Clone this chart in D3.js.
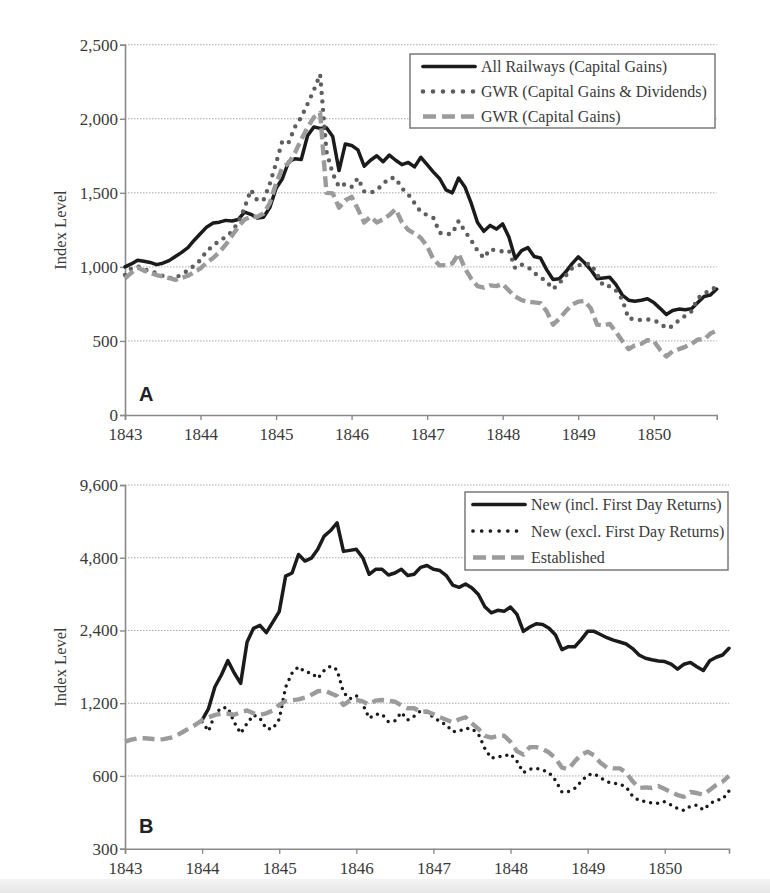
<!DOCTYPE html>
<html>
<head>
<meta charset="utf-8">
<script src="https://cdnjs.cloudflare.com/ajax/libs/d3/7.8.5/d3.min.js"></script>
<style>
  html, body { margin: 0; padding: 0; background: #fff; }
  svg { display: block; }
</style>
</head>
<body>
<div id="chart"></div>
<script>
// ---------- DATA (monthly, starting January 1843) ----------
const startYear = 1843;
const yearTicks = [1843, 1844, 1845, 1846, 1847, 1848, 1849, 1850];
const topTicks = [0, 500, 1000, 1500, 2000, 2500];
const bottomTicks = [300, 600, 1200, 2400, 4800, 9600];

const topLabels = ["All Railways (Capital Gains)", "GWR (Capital Gains & Dividends)", "GWR (Capital Gains)"];
const bottomLabels = ["New (incl. First Day Returns)", "New (excl. First Day Returns)", "Established"];

// Panel A
const allRailways = [1000,1020,1045,1038,1030,1015,1025,1042,1070,1098,1130,1180,
  1225,1270,1296,1302,1314,1310,1320,1370,1355,1330,1335,1400,
  1530,1595,1710,1730,1725,1885,1945,1935,1940,1880,1650,1830,
  1820,1790,1680,1720,1750,1710,1755,1720,1690,1705,1675,1740,
  1690,1640,1595,1520,1500,1600,1540,1430,1300,1240,1280,1255,
  1290,1200,1055,1110,1130,1070,1060,980,915,920,965,1020,
  1068,1028,980,920,925,930,880,810,775,768,775,785,
  760,720,678,705,715,710,718,760,800,810,850];
const gwrDividends = [945,990,1005,985,970,958,940,925,925,950,975,1010,
  1046,1110,1140,1180,1200,1240,1300,1400,1520,1450,1450,1560,
  1700,1850,1840,1945,2010,2100,2193,2300,1780,1630,1540,1560,
  1540,1600,1510,1500,1518,1560,1600,1600,1530,1490,1430,1370,
  1350,1330,1230,1220,1225,1310,1240,1180,1110,1060,1120,1110,
  1105,1110,990,1015,1000,960,930,900,850,890,940,990,
  1010,1020,1020,950,870,870,840,780,650,650,640,645,
  640,620,585,600,640,670,700,790,815,850,860];
const gwrCapital = [922,960,995,975,960,945,935,925,912,925,940,965,
  990,1030,1060,1100,1150,1210,1270,1320,1338,1338,1360,1430,
  1563,1670,1700,1770,1860,1940,2010,2040,1500,1496,1400,1450,
  1473,1390,1300,1338,1300,1320,1350,1390,1300,1250,1225,1195,
  1140,1050,1010,1012,1023,1090,990,920,870,860,875,870,
  885,840,800,775,765,760,755,700,610,650,700,745,
  765,770,720,610,605,615,560,500,445,470,480,505,
  500,440,395,430,445,460,480,510,510,550,570];

// Panel B (new-company indices start January 1844 = month 12)
const newStartMonth = 12;
const newIncl = [1022,1140,1404,1570,1800,1600,1450,2150,2450,2520,2350,2600,
  2871,4030,4150,4950,4650,4780,5200,5900,6220,6700,5100,5150,
  5200,4800,4100,4300,4300,4072,4150,4300,4050,4100,4380,4460,
  4300,4250,4050,3700,3620,3740,3600,3380,3010,2840,2910,2880,
  3000,2800,2380,2480,2560,2540,2450,2300,2000,2056,2056,2200,
  2380,2380,2310,2240,2190,2150,2110,2020,1900,1841,1815,1795,
  1785,1740,1660,1740,1770,1700,1640,1800,1860,1900,2025];
const newExcl = [1006,920,1080,1150,1150,1000,900,990,1073,1040,940,940,
  1030,1400,1600,1700,1620,1600,1522,1640,1710,1650,1330,1250,
  1290,1190,1040,1080,1080,1006,1015,1100,1022,1060,1115,1100,
  1050,1010,975,915,920,945,940,895,780,710,721,723,
  740,690,620,640,645,635,620,575,515,517,533,570,
  606,612,590,568,560,556,540,495,475,470,464,462,
  470,455,440,432,450,454,434,460,477,480,520];
const established = [832,848,859,859,855,848,852,862,882,912,945,978,
  1020,1050,1073,1085,1085,1075,1100,1120,1090,1075,1090,1120,
  1180,1225,1235,1245,1265,1300,1345,1355,1320,1285,1180,1230,
  1240,1220,1185,1230,1237,1228,1218,1175,1144,1144,1105,1110,
  1080,1050,1025,1000,1030,1050,990,940,880,865,878,880,
  830,760,735,790,790,775,750,710,650,640,690,735,
  756,730,680,650,645,645,620,570,535,538,535,545,
  530,515,500,492,515,510,502,525,550,568,600];

// ---------- helpers ----------
const toPoints = (arr, offset) => arr.map((v, i) => ({ t: startYear + (i + offset) / 12, v }));
const lastT = startYear + (allRailways.length - 1) / 12;

const W = 770, H = 893;
const svg = d3.select("#chart").append("svg").attr("width", W).attr("height", H);
svg.append("rect").attr("width", W).attr("height", H).attr("fill", "#fff");

// subtle grey band at the very bottom (as in the photographed page)
const grad = svg.append("defs").append("linearGradient").attr("id", "band").attr("x1", 0).attr("x2", 0).attr("y1", 0).attr("y2", 1);
grad.append("stop").attr("offset", "0%").attr("stop-color", "#f4f4f4");
grad.append("stop").attr("offset", "100%").attr("stop-color", "#e6e6e6");
svg.append("rect").attr("x", 0).attr("y", 879).attr("width", W).attr("height", 14).attr("fill", "url(#band)");

const serif = "'Liberation Serif', 'Times New Roman', serif";
const textCol = "#3a3a3a";
const axisCol = "#8a8a8a";

const styles = {
  solid: { stroke: "#1b1b1b", width: 3.5, dash: null, cap: "round" },
  dotTop: { stroke: "#5e5e5e", width: 4.4, dash: "0 8.5", cap: "round" },
  dashTop: { stroke: "#9b9b9b", width: 4.4, dash: "11 5", cap: "butt" },
  dotBot: { stroke: "#1b1b1b", width: 3.5, dash: "0 7", cap: "round" },
  dashBot: { stroke: "#9b9b9b", width: 4.4, dash: "12 6", cap: "butt" }
};

function drawPanel(cfg) {
  const g = svg.append("g");
  const x = d3.scaleLinear().domain([startYear, lastT]).range([cfg.left, cfg.right]);
  const y = cfg.y;

  // gridlines
  g.append("g").selectAll("line").data(cfg.yTicks.slice(1)).join("line")
    .attr("x1", cfg.left).attr("x2", cfg.right)
    .attr("y1", d => y(d)).attr("y2", d => y(d))
    .attr("stroke", "#a8a8a8").attr("stroke-width", 1).attr("stroke-dasharray", "1.5 1.5");

  // axes
  const yAxis = d3.axisLeft(y).tickValues(cfg.yTicks).tickFormat(d3.format(",")).tickSizeOuter(0).tickSize(5).tickPadding(2);
  const xAxis = d3.axisBottom(x).tickValues(yearTicks).tickFormat(d3.format("d")).tickSizeOuter(0).tickSize(5).tickPadding(8);
  const ya = g.append("g").attr("transform", `translate(${cfg.left},0)`).call(yAxis);
  const xa = g.append("g").attr("transform", `translate(0,${cfg.bottom})`).call(xAxis);
  [ya, xa].forEach(a => {
    a.select(".domain").attr("stroke", axisCol).attr("stroke-width", 1.6);
    a.selectAll(".tick line").attr("stroke", axisCol).attr("stroke-width", 1.4);
    a.selectAll("text").attr("font-family", serif).attr("font-size", 17).attr("fill", textCol);
  });

  // y title
  g.append("text").attr("transform", `translate(${66},${cfg.titleY}) rotate(-90)`)
    .attr("text-anchor", "middle").attr("font-family", serif).attr("font-size", 16.5).attr("fill", textCol)
    .text("Index Level");

  // panel letter
  g.append("text").attr("x", 139).attr("y", cfg.letterY)
    .attr("font-family", "'Liberation Sans', Arial, sans-serif").attr("font-weight", "bold")
    .attr("font-size", 20).attr("fill", "#222").text(cfg.letter);

  // series
  const line = d3.line().x(d => x(d.t)).y(d => y(d.v));
  cfg.series.forEach(s => {
    const st = styles[s.style];
    g.append("path").datum(s.points).attr("d", line)
      .attr("fill", "none").attr("stroke", st.stroke).attr("stroke-width", st.width)
      .attr("stroke-linejoin", "round").attr("stroke-linecap", st.cap)
      .attr("stroke-dasharray", st.dash);
  });

  // legend
  const L = cfg.legend;
  g.append("rect").attr("x", L.x).attr("y", L.y).attr("width", L.w).attr("height", L.h)
    .attr("fill", "#fff").attr("stroke", "#7a7a7a").attr("stroke-width", 1.5);
  cfg.series.forEach((s, i) => {
    const st = styles[s.style];
    const yy = L.y + L.firstRow + i * L.rowGap;
    g.append("line").attr("x1", L.x + L.lx1).attr("x2", L.x + L.lx2).attr("y1", yy).attr("y2", yy)
      .attr("stroke", st.stroke).attr("stroke-width", st.width + 0.2)
      .attr("stroke-linecap", st.cap).attr("stroke-dasharray", s.legendDash || st.dash);
    g.append("text").attr("x", L.x + L.tx).attr("y", yy).attr("dy", "0.35em")
      .attr("font-family", serif).attr("font-size", 16).attr("fill", textCol).text(s.label);
  });
}

drawPanel({
  left: 125, right: 716.7, bottom: 415,
  y: d3.scaleLinear().domain([0, 2500]).range([415, 44.7]),
  yTicks: topTicks, titleY: 230, letter: "A", letterY: 401,
  legend: { x: 410, y: 54, w: 305, h: 74, firstRow: 12.5, rowGap: 25, lx1: 13, lx2: 65, tx: 71 },
  series: [
    { label: topLabels[0], style: "solid", points: toPoints(allRailways, 0) },
    { label: topLabels[1], style: "dotTop", points: toPoints(gwrDividends, 0), legendDash: "0 10" },
    { label: topLabels[2], style: "dashTop", points: toPoints(gwrCapital, 0), legendDash: "13 6" }
  ]
});

drawPanel({
  left: 125, right: 729, bottom: 848.7,
  y: d3.scaleLog().base(2).domain([300, 9600]).range([848.7, 485]),
  yTicks: bottomTicks, titleY: 667, letter: "B", letterY: 833,
  legend: { x: 465, y: 492, w: 263, h: 78, firstRow: 12.5, rowGap: 26.5, lx1: 8, lx2: 60, tx: 66 },
  series: [
    { label: bottomLabels[0], style: "solid", points: toPoints(newIncl, newStartMonth) },
    { label: bottomLabels[1], style: "dotBot", points: toPoints(newExcl, newStartMonth), legendDash: "0 8.7" },
    { label: bottomLabels[2], style: "dashBot", points: toPoints(established, 0), legendDash: "13 6" }
  ]
});
</script>
</body>
</html>
